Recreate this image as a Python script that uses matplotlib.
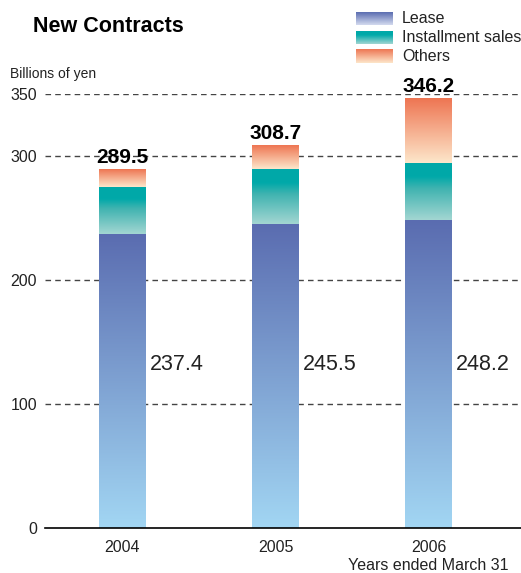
import matplotlib.pyplot as plt
import numpy as np
from matplotlib.colors import LinearSegmentedColormap

plt.rcParams['font.family'] = ['Liberation Sans', 'DejaVu Sans']

years = ['2004', '2005', '2006']
lease = [237.4, 245.5, 248.2]
installment = [37.6, 44.0, 46.2]
totals = [289.5, 308.7, 346.2]
others = [t - l - i for t, l, i in zip(totals, lease, installment)]

series_names = ['Lease', 'Installment sales', 'Others']
# gradient stops (position, colour), bottom -> top, for each series
bar_grads = {
    'Lease': [(0, '#a2d6f3'), (1, '#5a6cb0')],
    'Installment sales': [(0, '#a3d6d2'), (0.55, '#3fb3b0'), (0.75, '#00a9a9'), (1, '#00a8a8')],
    'Others': [(0, '#fde7cb'), (1, '#ee7552')],
}
legend_grads = {
    'Lease': [(0, '#d4dbef'), (1, '#5a6cb0')],
    'Installment sales': [(0, '#a3d6d2'), (0.7, '#00a9a9'), (1, '#00a8a8')],
    'Others': [(0, '#fde7cb'), (1, '#ee7552')],
}


def gradient_fill(ax, x0, y0, w, h, stops, transform=None, zorder=3):
    cmap = LinearSegmentedColormap.from_list('g', stops)
    grad = np.linspace(0, 1, 256).reshape(-1, 1)
    kw = {}
    if transform is not None:
        kw['transform'] = transform
    ax.imshow(grad, cmap=cmap, origin='lower', aspect='auto',
              extent=(x0, x0 + w, y0, y0 + h), zorder=zorder,
              interpolation='bicubic', clip_on=False, **kw)


fig = plt.figure(figsize=(5.21, 5.73), dpi=100)
ax = fig.add_axes([45 / 521, 1 - 528 / 573, 476 / 521, 434 / 573])

x = np.arange(len(years))
width = 0.307

stacks = [lease, installment, others]
bottoms = np.zeros(len(years))
for name, vals in zip(series_names, stacks):
    bars = ax.bar(x, vals, width, bottom=bottoms, color='none', zorder=3)
    for b in bars:
        gradient_fill(ax, b.get_x(), b.get_y(), b.get_width(), b.get_height(),
                      bar_grads[name])
    bottoms += np.array(vals)
ax.set_xlim(-0.5065, 2.605)
ax.set_ylim(0, 350)

# grid
for yv in [100, 200, 300, 350]:
    ax.axhline(yv, color='#444444', lw=1, ls=(0, (4, 3)), zorder=1)

for s in ['left', 'right', 'top']:
    ax.spines[s].set_visible(False)
ax.spines['bottom'].set_linewidth(1.2)
ax.spines['bottom'].set_zorder(4)

ax.set_yticks([0, 100, 200, 300, 350])
ax.set_xticks(x)
ax.set_xticklabels(years)
ax.tick_params(axis='both', length=0, labelsize=11.5, colors='#222222')
ax.tick_params(axis='y', pad=5.8)
ax.tick_params(axis='x', pad=8.5)

# lease values beside bars
for xi, v in zip(x, lease):
    ax.text(xi + width / 2 + 0.025, 132, f'{v:.1f}', fontsize=15.5,
            color='#222222', ha='left', va='center')

# totals above bars
for xi, t in zip(x, totals):
    ax.text(xi, t + 2, f'{t:.1f}', fontsize=15, fontweight='bold',
            ha='center', va='bottom', zorder=5)

fig.text(33 / 521, 1 - 27 / 573, 'New Contracts', fontsize=15.5,
         fontweight='bold', ha='left', va='center')
fig.text(10 / 521, 1 - 74 / 573, 'Billions of yen', fontsize=10,
         color='#222222', ha='left', va='center')
fig.text(509 / 521, 1 - 566 / 573, 'Years ended March 31', fontsize=11.5,
         color='#222222', ha='right', va='center')

# legend with gradient swatches
for i, name in enumerate(series_names):
    top = 12 + i * 19
    lx0, ly0 = 356 / 521, 1 - (top + 13) / 573
    gradient_fill(ax, lx0, ly0, 37 / 521, 13 / 573,
                  legend_grads[name], transform=fig.transFigure, zorder=6)
    fig.text(402 / 521, 1 - (top + 6.5) / 573, name, fontsize=11.5,
             color='#222222', ha='left', va='center')

fig.savefig('out.png', dpi=100)
